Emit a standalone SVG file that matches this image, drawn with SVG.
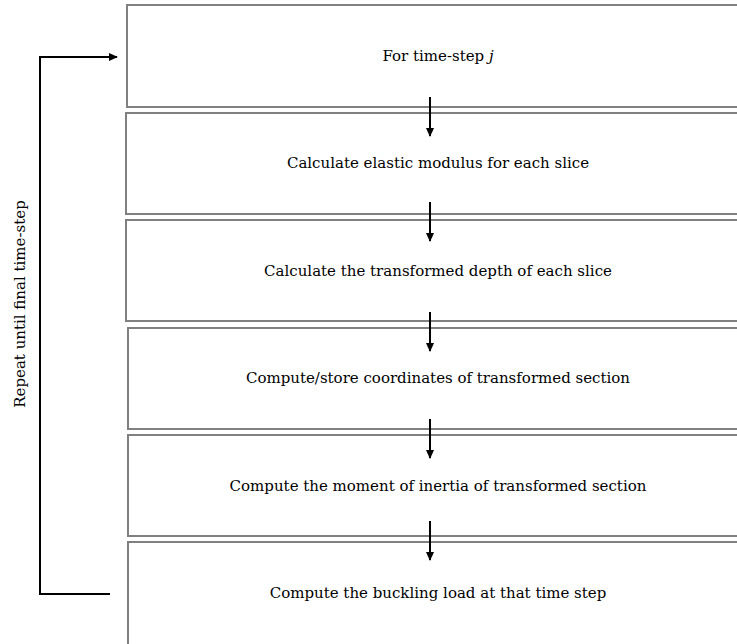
<svg xmlns="http://www.w3.org/2000/svg" width="737" height="644" viewBox="0 0 737 644">
<style>
.box{fill:#fff;stroke:#808080;stroke-width:2}
.lbl{font-family:"DejaVu Serif","Liberation Serif",serif;font-size:15px;fill:#000;text-anchor:middle;dominant-baseline:central}
.arr{stroke:#000;stroke-width:2;fill:none;marker-end:url(#ah)}
.loop{stroke:#000;stroke-width:2;fill:none;marker-end:url(#ah)}
</style>
<defs>
<marker id="ah" viewBox="0 0 10 10" refX="9" refY="5" markerWidth="9" markerHeight="9" orient="auto" markerUnits="userSpaceOnUse">
<path d="M0,0.5 L10,5 L0,9.5 z" fill="#000"/>
</marker>
</defs>
<rect width="737" height="644" fill="#fff"/>
<g id="n1"><rect class="box" x="127" y="5" width="620" height="102"/><text class="lbl" x="438" y="56">For time-step <tspan font-style="italic">j</tspan></text></g>
<g id="n2"><rect class="box" x="126" y="113" width="620" height="101"/><text class="lbl" x="438" y="163">Calculate elastic modulus for each slice</text></g>
<g id="n3"><rect class="box" x="126" y="220" width="620" height="101"/><text class="lbl" x="438" y="271">Calculate the transformed depth of each slice</text></g>
<g id="n4"><rect class="box" x="128" y="328" width="620" height="101"/><text class="lbl" x="438" y="378">Compute/store coordinates of transformed section</text></g>
<g id="n5"><rect class="box" x="128" y="435" width="620" height="101"/><text class="lbl" x="438" y="486">Compute the moment of inertia of transformed section</text></g>
<g id="n6"><rect class="box" x="128" y="542" width="620" height="120"/><text class="lbl" x="438" y="593">Compute the buckling load at that time step</text></g>
<g id="loop-label"><text class="lbl" transform="translate(20,304) rotate(-90)" x="0" y="0">Repeat until final time-step</text></g>
<g id="connectors">
<line class="arr" x1="430" y1="97" x2="430" y2="136"/>
<line class="arr" x1="430" y1="202" x2="430" y2="241"/>
<line class="arr" x1="430" y1="312" x2="430" y2="351"/>
<line class="arr" x1="430" y1="419" x2="430" y2="458"/>
<line class="arr" x1="430" y1="521" x2="430" y2="560"/>
<path class="loop" d="M110,594 H40 V57 H117"/>
</g>
</svg>
